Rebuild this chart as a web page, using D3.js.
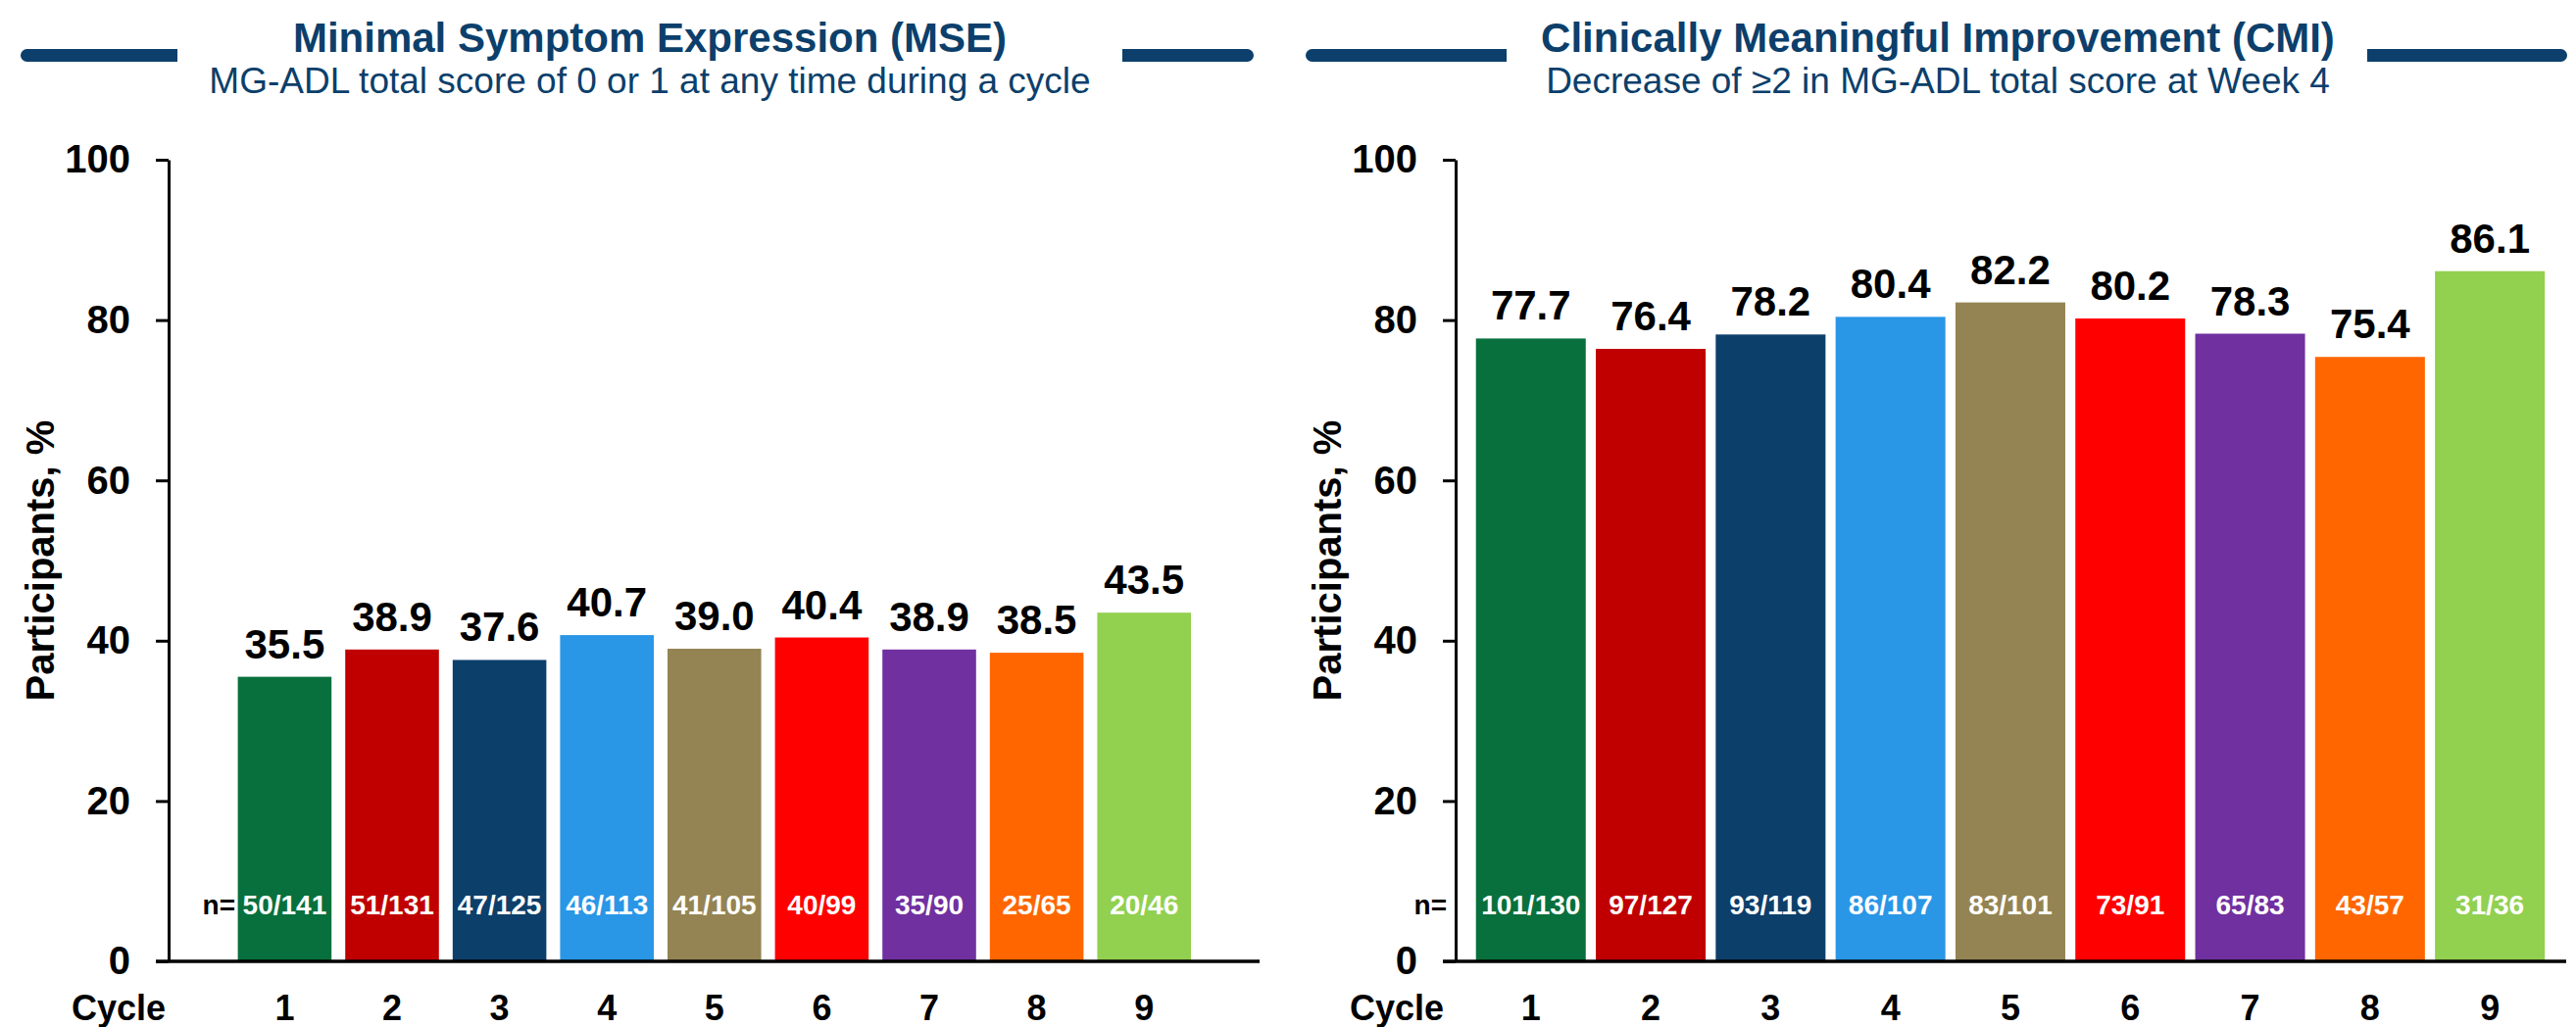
<!DOCTYPE html>
<html>
<head>
<meta charset="utf-8">
<script src="https://cdn.jsdelivr.net/npm/d3@7"></script>
<style>
  html, body { margin: 0; padding: 0; background: #ffffff; }
  svg { display: block; }
  text { font-family: "Liberation Sans", Arial, sans-serif; }
</style>
</head>
<body>
<svg id="chart" width="2628" height="1048"></svg>
<script>
// Treatment cycles shown on the x axis
const cycles = ["1", "2", "3", "4", "5", "6", "7", "8", "9"];

// Minimal Symptom Expression: % of participants, and responders / evaluable
const mseValues = [35.5, 38.9, 37.6, 40.7, 39.0, 40.4, 38.9, 38.5, 43.5];
const mseCounts = ["50/141", "51/131", "47/125", "46/113", "41/105", "40/99", "35/90", "25/65", "20/46"];

// Clinically Meaningful Improvement: % of participants, and responders / evaluable
const cmiValues = [77.7, 76.4, 78.2, 80.4, 82.2, 80.2, 78.3, 75.4, 86.1];
const cmiCounts = ["101/130", "97/127", "93/119", "86/107", "83/101", "73/91", "65/83", "43/57", "31/36"];

// One colour per cycle, shared by both panels
const cycleColors = ["#08703C", "#C00000", "#0D3F6B", "#2A96E6", "#948453", "#FF0000", "#7030A0", "#FF6600", "#92D050"];

// Y axis ticks
const yTicks = [0, 20, 40, 60, 80, 100];

// Panel headings
const mseTitle = "Minimal Symptom Expression (MSE)";
const mseSubtitle = "MG-ADL total score of 0 or 1 at any time during a cycle";
const cmiTitle = "Clinically Meaningful Improvement (CMI)";
const cmiSubtitle = "Decrease of \u22652 in MG-ADL total score at Week 4";

const NAVY = "#0C3F6B";
const FONT = '"Liberation Sans", Arial, sans-serif';

const svg = d3.select("#chart");

// Vertical scale is shared: 0 at the x axis, 100 at the top tick
const y = d3.scaleLinear().domain([0, 100]).range([981, 163]);

const panels = [
  {
    title: mseTitle, subtitle: mseSubtitle, values: mseValues, counts: mseCounts,
    axisX: 172, axisEnd: 1285, bandRange: [235.6, 1222], padInner: 0.128,
    titleX: 663, lineL: [21, 181], lineR: [1145, 1279],
    nLabelX: 240, cycleLabelX: 169, yTitleX: 55
  },
  {
    title: cmiTitle, subtitle: cmiSubtitle, values: cmiValues, counts: cmiCounts,
    axisX: 1485, axisEnd: 2618, bandRange: [1500.6, 2601.3], padInner: 0.084,
    titleX: 1977, lineL: [1332, 1537], lineR: [2415, 2619],
    nLabelX: 1476, cycleLabelX: 1473, yTitleX: 1368
  }
];

// Heading bar: square inner end, rounded outer end
function headingBar(x0, x1, roundLeft) {
  const yTop = 50, h = 13, r = h / 2;
  const p = d3.path();
  if (roundLeft) {
    p.moveTo(x1, yTop);
    p.lineTo(x0 + r, yTop);
    p.arc(x0 + r, yTop + r, r, -Math.PI / 2, Math.PI / 2, true);
    p.lineTo(x1, yTop + h);
    p.closePath();
  } else {
    p.moveTo(x0, yTop);
    p.lineTo(x1 - r, yTop);
    p.arc(x1 - r, yTop + r, r, -Math.PI / 2, Math.PI / 2, false);
    p.lineTo(x0, yTop + h);
    p.closePath();
  }
  return p.toString();
}

panels.forEach(pn => {
  const g = svg.append("g");

  // Headings
  g.append("path").attr("d", headingBar(pn.lineL[0], pn.lineL[1], true)).attr("fill", NAVY);
  g.append("path").attr("d", headingBar(pn.lineR[0], pn.lineR[1], false)).attr("fill", NAVY);
  g.append("text")
    .attr("x", pn.titleX).attr("y", 53)
    .attr("text-anchor", "middle")
    .attr("font-size", 42).attr("font-weight", "bold")
    .attr("fill", NAVY)
    .text(pn.title);
  g.append("text")
    .attr("x", pn.titleX).attr("y", 95)
    .attr("text-anchor", "middle")
    .attr("font-size", 37)
    .attr("fill", NAVY)
    .text(pn.subtitle);

  const x = d3.scaleBand()
    .domain(cycles)
    .range(pn.bandRange)
    .paddingInner(pn.padInner)
    .paddingOuter(pn.padInner / 2);

  const rows = cycles.map((c, i) => ({ cycle: c, value: pn.values[i], count: pn.counts[i], color: cycleColors[i] }));

  // Bars
  g.append("g").selectAll("rect")
    .data(rows)
    .join("rect")
    .attr("x", d => x(d.cycle))
    .attr("width", x.bandwidth())
    .attr("y", d => y(d.value))
    .attr("height", d => y(0) - y(d.value))
    .attr("fill", d => d.color);

  // Percentage labels above bars
  g.append("g").selectAll("text")
    .data(rows)
    .join("text")
    .attr("x", d => x(d.cycle) + x.bandwidth() / 2)
    .attr("y", d => y(d.value) - 19)
    .attr("text-anchor", "middle")
    .attr("font-size", 42).attr("font-weight", "bold")
    .attr("fill", "#000")
    .text(d => d3.format(".1f")(d.value));

  // Responder counts inside bars
  g.append("g").selectAll("text")
    .data(rows)
    .join("text")
    .attr("x", d => x(d.cycle) + x.bandwidth() / 2)
    .attr("y", 933)
    .attr("text-anchor", "middle")
    .attr("font-size", 28).attr("font-weight", "bold")
    .attr("fill", "#fff")
    .text(d => d.count);

  g.append("text")
    .attr("x", pn.nLabelX).attr("y", 933)
    .attr("text-anchor", "end")
    .attr("font-size", 28).attr("font-weight", "bold")
    .attr("fill", "#000")
    .text("n=");

  // Y axis
  const yAxis = g.append("g")
    .attr("transform", `translate(${pn.axisX},0)`)
    .call(d3.axisLeft(y).tickValues(yTicks).tickSize(13).tickSizeOuter(0).tickPadding(26));
  yAxis.select(".domain").attr("stroke", "#000").attr("stroke-width", 3);
  yAxis.selectAll(".tick line").attr("stroke", "#000").attr("stroke-width", 3);
  yAxis.selectAll(".tick text")
    .attr("font-family", FONT).attr("font-size", 40).attr("font-weight", "bold")
    .attr("fill", "#000");

  // X axis baseline
  g.append("line")
    .attr("x1", pn.axisX - 13).attr("x2", pn.axisEnd)
    .attr("y1", y(0)).attr("y2", y(0))
    .attr("stroke", "#000").attr("stroke-width", 3.5);

  // Cycle labels
  const xAxis = g.append("g")
    .attr("transform", `translate(0,${y(0)})`)
    .call(d3.axisBottom(x).tickSize(0).tickPadding(0));
  xAxis.select(".domain").remove();
  xAxis.selectAll(".tick text")
    .attr("font-family", FONT).attr("font-size", 36).attr("font-weight", "bold")
    .attr("fill", "#000")
    .attr("dy", null)
    .attr("y", 1041 - y(0));

  g.append("text")
    .attr("x", pn.cycleLabelX).attr("y", 1041)
    .attr("text-anchor", "end")
    .attr("font-size", 36).attr("font-weight", "bold")
    .attr("fill", "#000")
    .text("Cycle");

  // Y axis title
  g.append("text")
    .attr("transform", `translate(${pn.yTitleX},572) rotate(-90)`)
    .attr("text-anchor", "middle")
    .attr("font-size", 40).attr("font-weight", "bold")
    .attr("fill", "#000")
    .text("Participants, %");
});
</script>
</body>
</html>
